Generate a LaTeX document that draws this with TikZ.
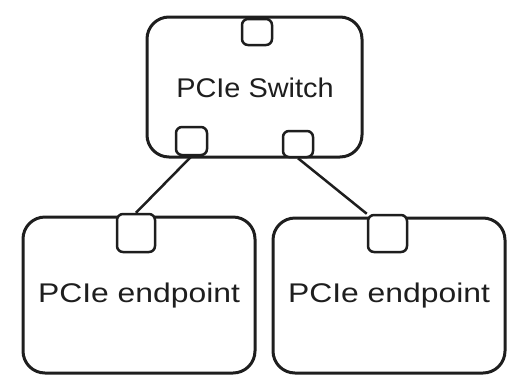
\documentclass[tikz,border=0pt]{standalone}
\usepackage{fontspec}
\setmainfont{Liberation Sans}
\definecolor{ink}{HTML}{1E1E1E}
\begin{document}
\begin{tikzpicture}[x=1pt,y=-1pt,
  box/.style={draw=ink,line width=3pt,rounded corners=22pt,fill=white,inner sep=0pt},
  port/.style={draw=ink,line width=2.5pt,rounded corners=6pt,fill=white,inner sep=0pt},
  lbl/.style={text=ink,font=\fontsize{27}{30}\selectfont,inner sep=0pt},
  wire/.style={draw=ink,line width=2.5pt}]
\useasboundingbox (0,0) rectangle (521,386);
\node[box,minimum width=215pt,minimum height=140pt] (sw) at (254.5,87) {};
\node[box,minimum width=232pt,minimum height=156pt] (ep1) at (139,295) {};
\node[box,minimum width=232pt,minimum height=155pt] (ep2) at (389,295.5) {};
\node[port,minimum width=30pt,minimum height=26pt] (swtop) at (257,32) {};
\node[port,minimum width=31pt,minimum height=28pt] (swl) at (191.5,141) {};
\node[port,minimum width=30pt,minimum height=26pt] (swr) at (298,144) {};
\node[port,minimum width=38pt,minimum height=38pt] (p1) at (136,233) {};
\node[port,minimum width=39pt,minimum height=37pt] (p2) at (387.5,233.5) {};
\draw[wire] (swl.south) -- (p1.north);
\draw[wire] (swr.south) -- (p2.north west);
\node[lbl] (t0) at (255,88) {\scalebox{1.07}[1]{PCIe Switch}};
\node[lbl] (t1) at (139,296) {\scalebox{1.18}[1]{PCIe endpoint}};
\node[lbl] (t2) at (389,296) {\scalebox{1.18}[1]{PCIe endpoint}};
\end{tikzpicture}
\end{document}
